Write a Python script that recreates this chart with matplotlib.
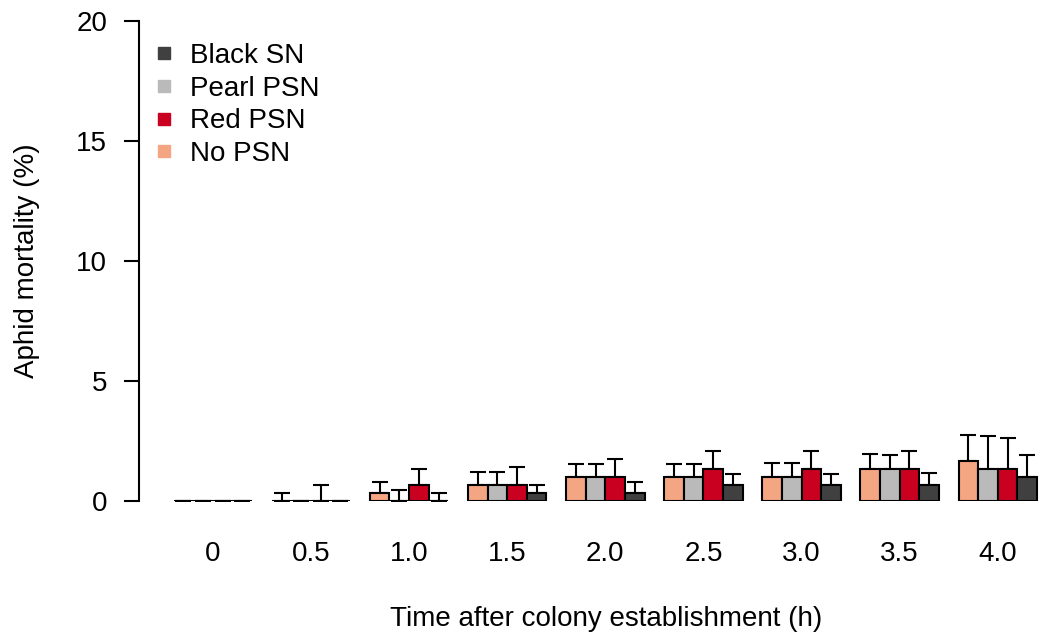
import numpy as np
import matplotlib
matplotlib.use("Agg")
import matplotlib.pyplot as plt
from matplotlib.lines import Line2D

plt.rcParams['font.family'] = ['Liberation Sans', 'DejaVu Sans']

# data (mean and standard error, %)
times = ['0', '0.5', '1.0', '1.5', '2.0', '2.5', '3.0', '3.5', '4.0']

no_psn = [0, 0, 0.33, 0.67, 1.0, 1.0, 1.0, 1.33, 1.67]
no_psn_se = [0, 0.33, 0.47, 0.53, 0.55, 0.55, 0.6, 0.63, 1.08]

pearl_psn = [0, 0, 0, 0.67, 1.0, 1.0, 1.0, 1.33, 1.33]
pearl_psn_se = [0, 0, 0.47, 0.53, 0.55, 0.55, 0.6, 0.57, 1.39]

red_psn = [0, 0, 0.67, 0.67, 1.0, 1.33, 1.33, 1.33, 1.33]
red_psn_se = [0, 0.67, 0.67, 0.73, 0.76, 0.77, 0.77, 0.77, 1.28]

black_sn = [0, 0, 0, 0.33, 0.33, 0.67, 0.67, 0.67, 1.0]
black_sn_se = [0, 0, 0.33, 0.33, 0.46, 0.44, 0.44, 0.51, 0.93]

series = [
    ('No PSN', no_psn, no_psn_se, '#F4A582'),
    ('Pearl PSN', pearl_psn, pearl_psn_se, '#BABABA'),
    ('Red PSN', red_psn, red_psn_se, '#CA0020'),
    ('Black SN', black_sn, black_sn_se, '#404040'),
]
legend_order = ['Black SN', 'Pearl PSN', 'Red PSN', 'No PSN']

FS = 20
W, H = 1039, 634
fig = plt.figure(figsize=(W / 100, H / 100), dpi=100)
# axes box in pixels: x 139..1039, y 21..501
ax = fig.add_axes([139 / W, (H - 501) / H, (1039 - 139) / W, 480 / H])

x = np.arange(len(times))
w = 0.2
for k, (name, vals, se, col) in enumerate(series):
    pos = x + (k - 1.5) * w
    ax.errorbar(pos, vals, yerr=[np.zeros(len(se)), se], fmt='none',
                ecolor='black', elinewidth=1.5, capsize=6, capthick=1.5,
                zorder=2)
    ax.bar(pos, vals, width=w, color=col, edgecolor='black',
           linewidth=1.5, zorder=3)

ax.set_xlim(-0.753, 8.42)
ax.set_ylim(0, 20)
ax.set_yticks([0, 5, 10, 15, 20])
ax.set_xticks(x)
ax.set_xticklabels(times)

for s in ['top', 'right', 'bottom']:
    ax.spines[s].set_visible(False)
ax.spines['left'].set_linewidth(1.5)
ax.tick_params(axis='y', length=11, width=1.5, pad=12, labelsize=FS)
ax.tick_params(axis='x', length=0, pad=29, labelsize=FS)

ax.set_ylabel('Aphid mortality (%)', fontsize=FS)
ax.yaxis.set_label_coords((40 - 139) / 900, 0.5)
ax.set_xlabel('Time after colony establishment (h)', fontsize=FS)
ax.xaxis.set_label_coords((606 - 139) / 900, (501 - 606) / 480)

colours = {name: col for name, _, _, col in series}
handles = [Line2D([], [], marker='s', linestyle='none', markersize=9,
                  markerfacecolor=colours[n], markeredgecolor=colours[n])
           for n in legend_order]
ax.legend(handles, legend_order, loc='upper left', frameon=False, fontsize=FS,
          bbox_to_anchor=((156 - 139) / 900, (501 - 43) / 480),
          handlelength=0.6, handletextpad=0.62, labelspacing=0.24,
          borderaxespad=0, borderpad=0)

fig.savefig('out.png', dpi=100)
